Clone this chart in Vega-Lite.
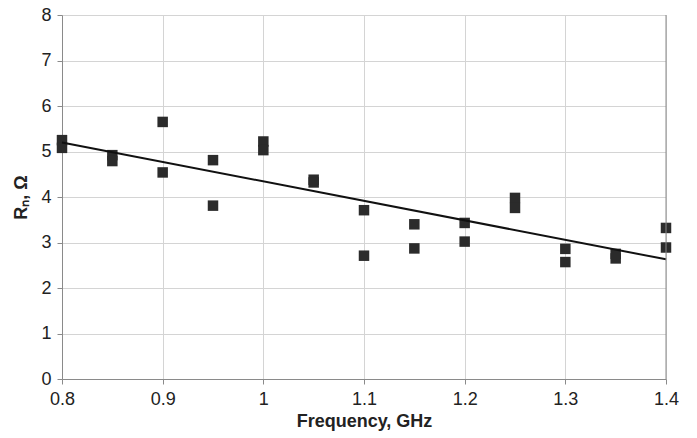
{
  "$schema": "https://vega.github.io/schema/vega-lite/v6.json",
  "width": 604,
  "height": 364,
  "autosize": {"type": "none"},
  "padding": {"left": 62, "top": 15, "right": 31, "bottom": 59},
  "background": "white",
  "config": {
    "view": {"stroke": null},
    "font": "Liberation Sans",
    "axis": {
      "labelFont": "Liberation Sans",
      "titleFont": "Liberation Sans",
      "labelFontSize": 18,
      "titleFontSize": 17,
      "labelColor": "#222",
      "titleColor": "#222",
      "gridColor": "#d4d4d4",
      "gridWidth": 1,
      "domainColor": "#8a8a8a",
      "tickColor": "#8a8a8a",
      "tickSize": 5
    }
  },
  "datasets": {
    "pts": [
      {"f": 0.8, "r": 5.25}, {"f": 0.8, "r": 5.08},
      {"f": 0.85, "r": 4.92}, {"f": 0.85, "r": 4.79},
      {"f": 0.9, "r": 5.65}, {"f": 0.9, "r": 4.54},
      {"f": 0.95, "r": 4.81}, {"f": 0.95, "r": 3.81},
      {"f": 1.0, "r": 5.22}, {"f": 1.0, "r": 5.03},
      {"f": 1.05, "r": 4.38}, {"f": 1.05, "r": 4.32},
      {"f": 1.1, "r": 3.71}, {"f": 1.1, "r": 2.71},
      {"f": 1.15, "r": 3.4}, {"f": 1.15, "r": 2.87},
      {"f": 1.2, "r": 3.43}, {"f": 1.2, "r": 3.02},
      {"f": 1.25, "r": 3.98}, {"f": 1.25, "r": 3.76},
      {"f": 1.3, "r": 2.86}, {"f": 1.3, "r": 2.57},
      {"f": 1.35, "r": 2.75}, {"f": 1.35, "r": 2.65},
      {"f": 1.4, "r": 3.32}, {"f": 1.4, "r": 2.89}
    ],
    "trend": [{"f": 0.8, "r": 5.2}, {"f": 1.4, "r": 2.63}],
    "edge": [{"f": 1.4}]
  },
  "layer": [
    {
      "data": {"name": "pts"},
      "mark": {"type": "point", "shape": "square", "filled": true, "size": 110, "color": "#2b2b2b", "opacity": 1},
      "encoding": {
        "x": {
          "field": "f", "type": "quantitative",
          "scale": {"domain": [0.8, 1.4], "nice": false, "zero": false},
          "axis": {"values": [0.8, 0.9, 1.0, 1.1, 1.2, 1.3, 1.4], "format": "~g", "title": "Frequency, GHz", "titleFontWeight": "bold", "titleFontSize": 18, "labelPadding": 6, "titlePadding": 4, "labelFlush": false}
        },
        "y": {
          "field": "r", "type": "quantitative",
          "scale": {"domain": [0, 8], "nice": false},
          "axis": {"values": [0, 1, 2, 3, 4, 5, 6, 7, 8], "format": "~g", "title": "Rₙ, Ω", "titleFontWeight": "bold", "titleFontSize": 18, "labelPadding": 6, "titlePadding": 10}
        }
      }
    },
    {
      "data": {"name": "trend"},
      "mark": {"type": "line", "color": "#111", "strokeWidth": 2},
      "encoding": {
        "x": {"field": "f", "type": "quantitative"},
        "y": {"field": "r", "type": "quantitative"}
      }
    },
    {
      "data": {"name": "edge"},
      "mark": {"type": "rule", "color": "#8a8a8a", "strokeWidth": 1},
      "encoding": {
        "x": {"field": "f", "type": "quantitative"}
      }
    }
  ]
}
